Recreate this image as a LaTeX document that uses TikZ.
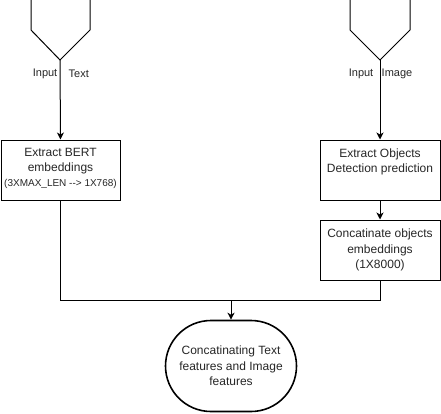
\documentclass[tikz,border=0pt]{standalone}
\usepackage{fontspec}
\setmainfont{Liberation Sans}
\usetikzlibrary{arrows.meta}
\begin{document}
\begin{tikzpicture}[x=1pt,y=-1pt,
  every node/.style={text=black!85, font=\fontsize{12}{15.5}\selectfont, inner sep=0pt, align=center},
  boxstyle/.style={draw=black, line width=1pt, minimum width=119pt, minimum height=60pt, align=center},
  termstyle/.style={draw=black, line width=1.6pt, rounded corners=45.5pt, minimum width=131pt, minimum height=91pt, align=center},
  lbl/.style={font=\fontsize{11}{13}\selectfont},
  small/.style={font=\fontsize{10}{12}\selectfont},
  conn/.style={line width=1pt, draw=black},
  arr/.style={conn, -{Stealth[length=7pt,width=7pt,inset=2pt]}},
  pent/.style={draw=black, line width=1pt, line join=miter}
]
\useasboundingbox (0,0) rectangle (441,413);

% input shapes
\draw[pent] (31,-2) -- (31,30) -- (60,60) -- (90,30) -- (90,-2);
\coordinate (inT) at (60,60);
\draw[pent] (350,-2) -- (350,30) -- (380,60) -- (410,30) -- (410,-2);
\coordinate (inI) at (380,60);

% labels
\node[lbl, anchor=east] (lInput1) at (57.5,74) {Input};
\node[lbl, anchor=west] (lText) at (68.5,74) {Text};
\node[lbl, anchor=east] (lInput2) at (373.5,74) {Input};
\node[lbl, anchor=west] (lImage) at (381.5,74) {Image};

% boxes
\node[boxstyle] (bert) at (60.5,170) {};
\node (bertT) at (60.5,161) {Extract BERT\\embeddings};
\node[small] (bertS) at (60.5,183.5) {(3XMAX\_LEN -{}-{}> 1X768)};

\node[boxstyle, minimum width=120pt] (obj) at (380,170) {};
\node (objT) at (380,162) {Extract Objects\\Detection prediction};

\node[boxstyle, minimum width=120pt] (cat) at (380,250) {Concatinate objects\\embeddings\\(1X8000)};

\node[termstyle] (term) at (231,366) {Concatinating Text\\features and Image\\features};

\coordinate (j) at (231,300);

% connectors
\draw[arr] (inT) -- (bert.north);
\draw[arr] (inI) -- (obj.north);
\draw[arr] (obj.south) -- (cat.north);
\draw[conn] (bert.south) |- (j);
\draw[conn] (cat.south) |- (j);
\draw[arr] (j) -- (term.north);
\end{tikzpicture}
\end{document}
